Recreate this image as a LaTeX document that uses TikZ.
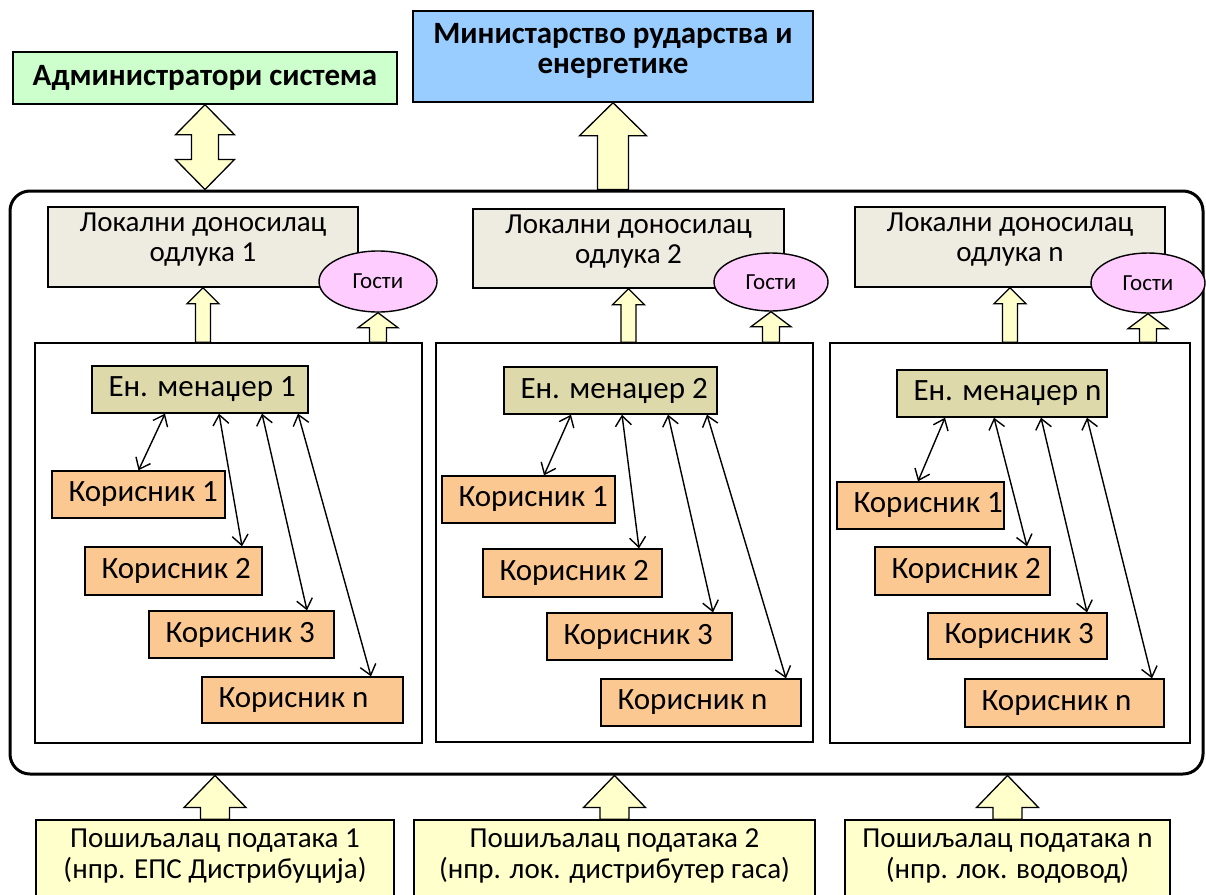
\documentclass[tikz,border=0pt]{standalone}
\usepackage{fontspec}
\setmainfont{Carlito}
\usetikzlibrary{arrows.meta,calc,shapes.geometric}

\definecolor{adminGreen}{RGB}{204,255,204}
\definecolor{ministryBlue}{RGB}{153,204,255}
\definecolor{localGray}{RGB}{238,236,225}
\definecolor{guestPink}{RGB}{255,204,255}
\definecolor{managerOlive}{RGB}{221,217,170}
\definecolor{userOrange}{RGB}{252,200,145}
\definecolor{paleYellow}{RGB}{255,255,204}

% block arrow pointing up: base point, tip point, shaft half-width, head half-width, head length
\newcommand\blockup[5]{%
  \filldraw[blockarrow] let \p1=(#1), \p2=(#2) in
    (\x2-#3pt,\y1) -- (\x2-#3pt,\y2-#5pt) -- (\x2-#4pt,\y2-#5pt) -- (\x2,\y2)
    -- (\x2+#4pt,\y2-#5pt) -- (\x2+#3pt,\y2-#5pt) -- (\x2+#3pt,\y1) -- cycle;}

\begin{document}
\begin{tikzpicture}[x=1pt,y=-1pt,
  box/.style={draw=black, line width=1.4pt, rectangle, inner sep=0pt},
  topbox/.style={box, font=\fontsize{31}{31}\selectfont\bfseries, align=center},
  toptext/.style={inner sep=0pt, align=center, yshift=6pt, font=\fontsize{31}{30}\selectfont\bfseries},
  localbox/.style={box, fill=localGray},
  localtext/.style={inner sep=0pt, align=center, yshift=7pt, font=\fontsize{29}{30}\selectfont},
  guest/.style={draw=black, line width=1.4pt, ellipse, fill=guestPink, inner sep=0pt,
    font=\fontsize{23}{23}\selectfont},
  inner/.style={box, fill=white},
  manager/.style={box, fill=managerOlive},
  user/.style={box, fill=userOrange},
  boxtext/.style={anchor=west, inner sep=0pt, xshift=17pt, font=\fontsize{31}{31}\selectfont},
  source/.style={box, fill=paleYellow},
  sourcetext/.style={inner sep=0pt, align=center, yshift=4pt, font=\fontsize{29}{31}\selectfont},
  blockarrow/.style={draw=black, line width=1.3pt, fill=paleYellow, line join=miter},
  link/.style={draw=black, line width=1.4pt, {Straight Barb[length=10pt,width=16pt]}-{Straight Barb[length=10pt,width=16pt]}}
]
\fill[white] (0,0) rectangle (1206,894);
\useasboundingbox (0,0) rectangle (1206,894);

% top level
\node[topbox, fill=adminGreen, minimum width=384pt, minimum height=52pt] (admin) at (205,78) {Администратори система};
\node[box, fill=ministryBlue, minimum width=400pt, minimum height=91pt,
  label={[toptext]center:Министарство рударства и\\енергетике}] (ministry) at (613,56.5) {};

% system frame
\node[draw=black, line width=3pt, rounded corners=20pt, minimum width=1193pt, minimum height=583pt] (sys) at (606.5,482.5) {};

% column frames
\node[inner, minimum width=387pt, minimum height=400pt] (in1) at (228.5,543) {};
\node[inner, minimum width=377pt, minimum height=399pt] (in2) at (624.5,542.5) {};
\node[inner, minimum width=360pt, minimum height=400pt] (inn) at (1010,543) {};

% local decision makers
\node[localbox, minimum width=310pt, minimum height=80pt, label={[localtext]center:Локални доносилац\\одлука 1}] (loc1) at (203,247) {};
\node[localbox, minimum width=311pt, minimum height=79pt, label={[localtext]center:Локални доносилац\\одлука 2}] (loc2) at (628.5,248.5) {};
\node[localbox, minimum width=310pt, minimum height=80pt, label={[localtext]center:Локални доносилац\\одлука n}] (locn) at (1010,247) {};

% guests
\node[guest, minimum width=118pt, minimum height=61pt] (g1) at (378,281.5) {Гости};
\node[guest, minimum width=114pt, minimum height=58pt] (g2) at (771,282) {Гости};
\node[guest, minimum width=114pt, minimum height=60pt] (gn) at (1148,283) {Гости};

% energy managers
\node[manager, minimum width=216pt, minimum height=47pt, label={[boxtext]west:Ен. менаџер 1}] (m1) at (200,389.5) {};
\node[manager, minimum width=213pt, minimum height=47pt, label={[boxtext]west:Ен. менаџер 2}] (m2) at (610.5,390.5) {};
\node[manager, minimum width=210pt, minimum height=47pt, label={[boxtext]west:Ен. менаџер n}] (mn) at (1002,393.5) {};

% users, column 1
\node[user, minimum width=173pt, minimum height=47pt, label={[boxtext]west:Корисник 1}] (u11) at (138.5,494.5) {};
\node[user, minimum width=177pt, minimum height=48pt, label={[boxtext]west:Корисник 2}] (u12) at (173.5,571) {};
\node[user, minimum width=185pt, minimum height=47pt, label={[boxtext]west:Корисник 3}] (u13) at (241.5,634.5) {};
\node[user, minimum width=201pt, minimum height=46pt, label={[boxtext]west:Корисник n}] (u1n) at (302.5,700) {};
% users, column 2
\node[user, minimum width=173pt, minimum height=47pt, label={[boxtext]west:Корисник 1}] (u21) at (528.5,499.5) {};
\node[user, minimum width=179pt, minimum height=48pt, label={[boxtext]west:Корисник 2}] (u22) at (572.5,573) {};
\node[user, minimum width=185pt, minimum height=47pt, label={[boxtext]west:Корисник 3}] (u23) at (639.5,636.5) {};
\node[user, minimum width=200pt, minimum height=47pt, label={[boxtext]west:Корисник n}] (u2n) at (701,702.5) {};
% users, column n
\node[user, minimum width=167pt, minimum height=47pt, label={[boxtext]west:Корисник 1}] (un1) at (920.5,505.5) {};
\node[user, minimum width=175pt, minimum height=48pt, label={[boxtext]west:Корисник 2}] (un2) at (962.5,571) {};
\node[user, minimum width=179pt, minimum height=46pt, label={[boxtext]west:Корисник 3}] (un3) at (1017.5,636) {};
\node[user, minimum width=199pt, minimum height=48pt, label={[boxtext]west:Корисник n}] (unn) at (1064.5,703) {};

% data senders
\node[source, minimum width=358pt, minimum height=80pt, label={[sourcetext]center:Пошиљалац података 1\\(нпр. ЕПС Дистрибуција)}] (s1) at (215,860) {};
\node[source, minimum width=401pt, minimum height=80pt, label={[sourcetext]center:Пошиљалац података 2\\(нпр. лок. дистрибутер гаса)}] (s2) at (614.5,860) {};
\node[source, minimum width=325pt, minimum height=80pt, label={[sourcetext]center:Пошиљалац података n\\(нпр. лок. водовод)}] (sn) at (1007.5,860) {};

% manager <-> user links
\draw[link] (165,0 |- m1.south) -- (u11.north);
\draw[link] (219,0 |- m1.south) -- (242,0 |- u12.north);
\draw[link] (262,0 |- m1.south) -- (307,0 |- u13.north);
\draw[link] (298,0 |- m1.south) -- (371,0 |- u1n.north);
\draw[link] (571,0 |- m2.south) -- (544,0 |- u21.north);
\draw[link] (622,0 |- m2.south) -- (639,0 |- u22.north);
\draw[link] (668,0 |- m2.south) -- (713,0 |- u23.north);
\draw[link] (707,0 |- m2.south) -- (786,0 |- u2n.north);
\draw[link] (945,0 |- mn.south) -- (918,0 |- un1.north);
\draw[link] (994,0 |- mn.south) -- (1027,0 |- un2.north);
\draw[link] (1041,0 |- mn.south) -- (1087,0 |- un3.north);
\draw[link] (1087,0 |- mn.south) -- (1152,0 |- unn.north);

% block arrows
\blockup{in1.north -| loc1.south}{loc1.south}{7.5}{16}{16}
\blockup{in2.north -| loc2.south}{loc2.south}{7.5}{16}{16}
\blockup{inn.north -| locn.south}{locn.south}{7.5}{16}{16}
\blockup{in1.north -| g1.south}{g1.south}{8.5}{20}{15}
\blockup{in2.north -| g2.south}{g2.south}{8.5}{20}{15}
\blockup{inn.north -| gn.south}{gn.south}{8.5}{20}{15}
\blockup{sys.north -| ministry.south}{ministry.south}{15.5}{33.5}{33}
\blockup{s1.north}{s1.north |- sys.south}{14.5}{31}{32}
\blockup{s2.north}{s2.north |- sys.south}{14.5}{31}{32}
\blockup{sn.north}{sn.north |- sys.south}{14.5}{31}{32}
% two-way arrow between administrators and the system
\filldraw[blockarrow] let \p1=(admin.south |- sys.north), \p2=(admin.south) in
  (\x2,\y2) -- (\x2+29.5pt,\y2-30pt) -- (\x2+13.5pt,\y2-30pt) -- (\x2+13.5pt,\y1+30pt)
  -- (\x2+29.5pt,\y1+30pt) -- (\x2,\y1) -- (\x2-29.5pt,\y1+30pt) -- (\x2-13.5pt,\y1+30pt)
  -- (\x2-13.5pt,\y2-30pt) -- (\x2-29.5pt,\y2-30pt) -- cycle;
\end{tikzpicture}
\end{document}
